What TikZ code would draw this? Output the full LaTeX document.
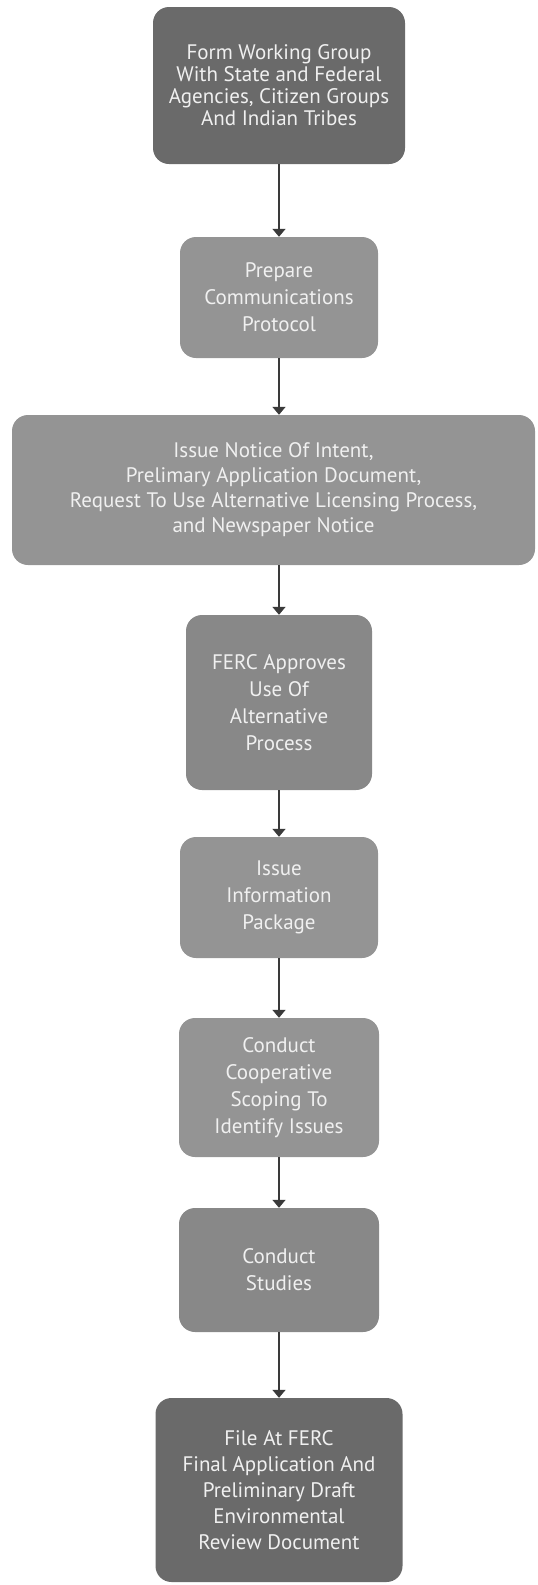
\documentclass[tikz,border=0pt]{standalone}
\usepackage{fontspec}
\setmainfont{PT Sans}
\usepackage{xcolor}
\definecolor{stepgray}{RGB}{148,148,148}
\definecolor{enddarkgray}{RGB}{106,106,106}
\definecolor{arrowgray}{RGB}{58,58,58}
\definecolor{textwhite}{RGB}{240,240,240}
\usepackage{tikz}
\usetikzlibrary{arrows.meta}
\newcommand{\stepfont}[1]{\fontsize{21}{#1}\selectfont}
\tikzset{
    common/.style={draw=none, rectangle, rounded corners=16pt, align=center, text=textwhite, font=\stepfont{27}, inner sep=4pt},
    stepbox/.style={common, fill=stepgray},
    endbox/.style={common, fill=enddarkgray},
    flow/.style={draw=arrowgray, line width=1.6pt, -{Triangle[width=13pt,length=8pt]}}
}

\begin{document}
\begin{tikzpicture}[x=1pt, y=1pt]
  \useasboundingbox (0,0) rectangle (538,-1585);

  \node[endbox, font=\stepfont{22}, minimum width=252pt, minimum height=157pt] (form-group) at (279,-85.5)
    {Form Working Group\\With State and Federal\\Agencies, Citizen Groups\\And Indian Tribes};
  \node[stepbox, minimum width=198pt, minimum height=121pt] (prepare-protocol) at (279,-297.5)
    {Prepare\\Communications\\Protocol};
  \node[stepbox, font=\stepfont{25}, minimum width=523pt, minimum height=150pt] (issue-notice) at (273.5,-490)
    {Issue Notice Of Intent,\\Prelimary Application Document,\\Request To Use Alternative Licensing Process,\\and Newspaper Notice};
  \node[stepbox, fill=stepgray!92!black, minimum width=186pt, minimum height=175pt] (ferc-approves) at (279,-702.5)
    {FERC Approves\\Use Of\\Alternative\\Process};
  \node[stepbox, minimum width=198pt, minimum height=121pt] (info-package) at (279,-897.5)
    {Issue\\Information\\Package};
  \node[stepbox, minimum width=200pt, minimum height=139pt] (scoping) at (279,-1087.5)
    {Conduct\\Cooperative\\Scoping To\\Identify Issues};
  \node[stepbox, fill=stepgray!92!black, minimum width=200pt, minimum height=124pt] (studies) at (279,-1270)
    {Conduct\\Studies};
  \node[endbox, font=\stepfont{26}, minimum width=247pt, minimum height=184pt] (file-ferc) at (279,-1490)
    {File At FERC\\Final Application And\\Preliminary Draft\\Environmental\\Review Document};

  \draw[flow] (form-group) -- (prepare-protocol);
  \draw[flow] (prepare-protocol) -- (prepare-protocol |- issue-notice.north);
  \draw[flow] (issue-notice.south -| ferc-approves) -- (ferc-approves);
  \draw[flow] (ferc-approves) -- (info-package);
  \draw[flow] (info-package) -- (scoping);
  \draw[flow] (scoping) -- (studies);
  \draw[flow] (studies) -- (file-ferc);
\end{tikzpicture}
\end{document}
